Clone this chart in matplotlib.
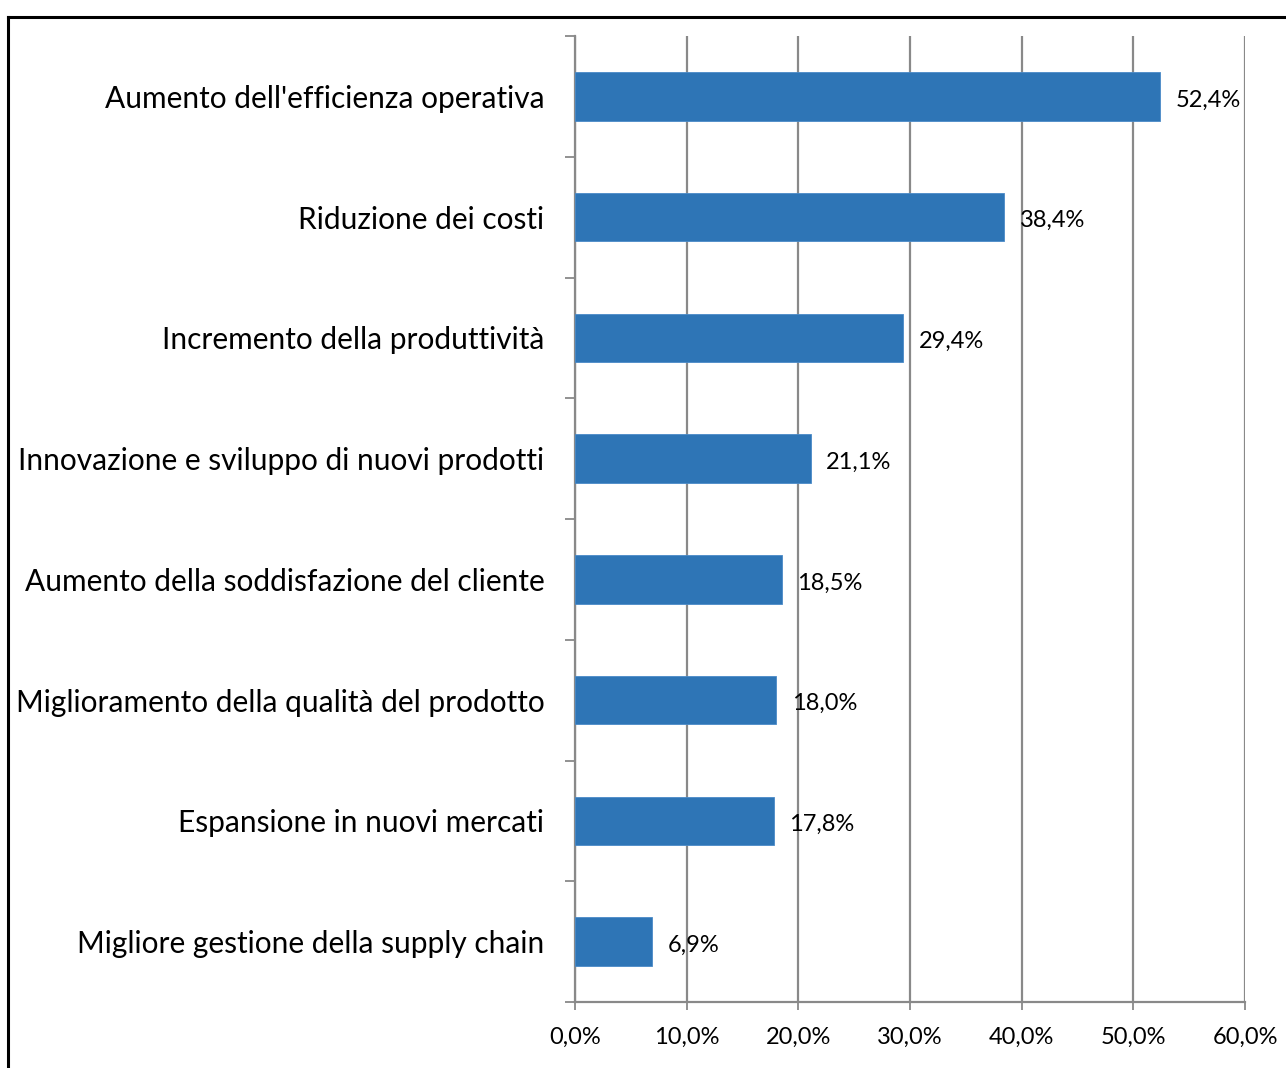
import numpy as np
import matplotlib
matplotlib.use("Agg")
import matplotlib.pyplot as plt
from matplotlib.lines import Line2D

# dati del grafico
categorie = [
    "Aumento dell'efficienza operativa",
    "Riduzione dei costi",
    "Incremento della produttività",
    "Innovazione e sviluppo di nuovi prodotti",
    "Aumento della soddisfazione del cliente",
    "Miglioramento della qualità del prodotto",
    "Espansione in nuovi mercati",
    "Migliore gestione della supply chain",
]
valori = [52.4, 38.4, 29.4, 21.1, 18.5, 18.0, 17.8, 6.9]
tick_x = [0, 10, 20, 30, 40, 50, 60]

plt.rcParams['font.family'] = ['Lato', 'DejaVu Sans']

W, H = 1286, 1068
fig = plt.figure(figsize=(W / 100, H / 100), dpi=100)
ax = fig.add_axes([575 / W, 1 - 1002 / H, 670 / W, 966 / H])

grigio = '#898989'
blu = '#2e75b6'

n = len(categorie)
y = np.arange(n)[::-1]
ax.barh(y, valori, height=0.4, color=blu, edgecolor='#4a8ac8', linewidth=0.6, zorder=3)

# etichette dei valori (leggermente abbassate come nell'originale)
for yi, v in zip(y, valori):
    ax.text(v + 1.4, yi - 0.03, f"{v:.1f}%".replace('.', ','), va='center', ha='left',
            fontsize=17, color='black', zorder=4)

ax.set_xlim(0, 60)
ax.set_ylim(-0.5, n - 0.5)
ax.set_xticks(tick_x)
ax.set_xticklabels([f"{t:.1f}%".replace('.', ',') for t in tick_x], fontsize=17)
ax.xaxis.grid(True, color=grigio, linewidth=1.6, zorder=0)
ax.set_axisbelow(True)

# tick di categoria sui bordi delle bande
ax.set_yticks(np.arange(-0.5, n, 1.0))
ax.set_yticklabels([])
ax.set_yticks(y, minor=True)
ax.set_yticklabels(categorie, minor=True, fontsize=21.5)
ax.tick_params(axis='y', which='minor', length=0, pad=22)
ax.tick_params(axis='y', which='major', length=7, width=1.3, color=grigio)
ax.tick_params(axis='x', length=6, width=1.3, color=grigio, pad=12)

for s in ['top', 'right']:
    ax.spines[s].set_visible(False)
for s in ['left', 'bottom']:
    ax.spines[s].set_color(grigio)
    ax.spines[s].set_linewidth(1.6)

# cornice esterna
fig.add_artist(Line2D([7.5 / W, 1], [1 - 16.5 / H, 1 - 16.5 / H], color='black', linewidth=2.2))
fig.add_artist(Line2D([7.5 / W, 7.5 / W], [0, 1 - 16.5 / H], color='black', linewidth=2.2))

fig.savefig("out.png", dpi=100)
